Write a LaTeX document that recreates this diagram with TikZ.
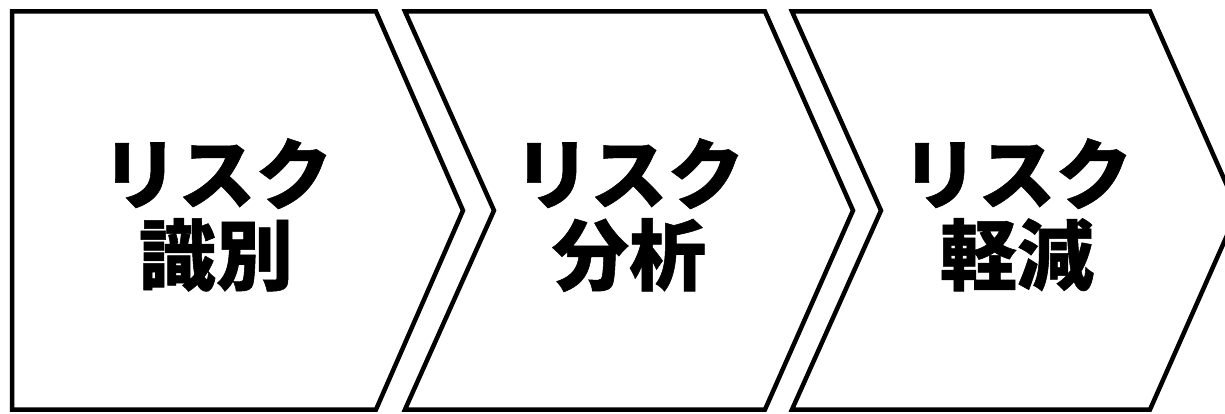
\documentclass[tikz,border=0pt]{standalone}
\usepackage{fontspec}
\newfontfamily\cjk[FakeBold=0.7]{Noto Sans CJK JP Black}
\begin{document}
\begin{tikzpicture}[x=1pt,y=-1pt,
  chev/.style={draw=black,line width=4.5pt,line join=miter,fill=white},
  lbl/.style={font=\cjk\fontsize{77}{86}\selectfont, inner sep=0pt, anchor=base}]
\useasboundingbox (0,0) rectangle (1225,414);
\draw[chev] (12,11.5) -- (376,11.5) -- (463,210.5) -- (376,409.5) -- (12,409.5) -- cycle;
\draw[chev] (405,11.5) -- (765,11.5) -- (853,210.5) -- (765,409.5) -- (405,409.5) -- (494,210.5) -- cycle;
\draw[chev] (792,11.5) -- (1150,11.5) -- (1238,210.5) -- (1150,409.5) -- (792,409.5) -- (881,210.5) -- cycle;
\node[lbl] (a1) at (217,203) {リスク};
\node[lbl] (a2) at (216,284) {識別};
\node[lbl] (b1) at (629,203) {リスク};
\node[lbl] (b2) at (629,284) {分析};
\node[lbl] (c1) at (1017,203) {リスク};
\node[lbl] (c2) at (1017,284) {軽減};
\end{tikzpicture}
\end{document}
